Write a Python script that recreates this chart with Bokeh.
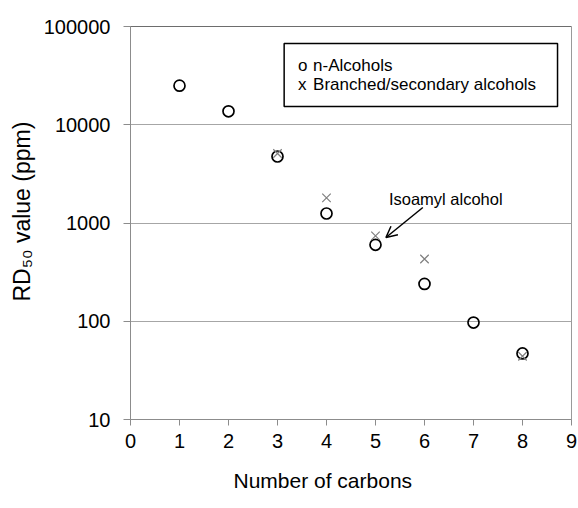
import math
from bokeh.plotting import figure
from bokeh.models import (FixedTicker, NumeralTickFormatter, Label, Arrow,
                          OpenHead, BoxAnnotation, Span, Title)
from bokeh.embed import file_html
from bokeh.resources import INLINE

# ---- data ----
carbons_n = [1, 2, 3, 4, 5, 6, 7, 8]
rd50_n = [25000, 13700, 4750, 1250, 600, 240, 97, 47]
carbons_b = [3, 4, 5, 6, 8]
rd50_b = [5100, 1800, 740, 430, 44]
x_ticks = [0, 1, 2, 3, 4, 5, 6, 7, 8, 9]
y_ticks = [10, 100, 1000, 10000, 100000]
legend_n = "n-Alcohols"
legend_b = "Branched/secondary alcohols"
note_text = "Isoamyl alcohol"
x_title = "Number of carbons"
y_title = "RD\u2085\u2080 value (ppm)"

FONT = "Liberation Sans"

# frame in pixels: x 129..571, y 26..419
FL, FR, FT, FB = 129, 571, 26, 419

def dx(px):
    return (px - FL) / ((FR - FL) / 9.0)

def dy(py):
    return 10 ** ((FB - py) / ((FB - FT) / 4.0) + 1)

W, H = 578, 508
p = figure(width=W, height=H, x_range=(0, 9), y_range=(10, 100000),
           y_axis_type="log", output_backend="svg", toolbar_location=None,
           min_border_left=FL, min_border_right=W - FR, min_border_top=FT,
           min_border_bottom=H - FB)
p.background_fill_color = "white"
p.border_fill_color = "white"
p.outline_line_color = "#9a9a9a"
p.outline_line_width = 1

# axes
p.xaxis.ticker = FixedTicker(ticks=x_ticks, minor_ticks=[])
p.yaxis.ticker = FixedTicker(ticks=y_ticks, minor_ticks=[])
p.yaxis.formatter = NumeralTickFormatter(format="0")
for ax in (p.xaxis, p.yaxis):
    ax.axis_line_color = "#8c8c8c"
    ax.major_tick_line_color = "#8c8c8c"
    ax.major_tick_in = 0
    ax.minor_tick_line_color = None
    ax.major_label_text_font = FONT
    ax.major_label_text_font_size = "20px"
    ax.major_label_text_color = "black"
p.yaxis.major_tick_out = 7
p.yaxis.major_label_standoff = 13
p.xaxis.major_tick_out = 6
p.xaxis.major_label_standoff = 8

p.xgrid.grid_line_color = None
p.ygrid.grid_line_color = "#a6a6a6"
p.ygrid.grid_line_width = 1
p.add_layout(Span(location=100000, dimension="width", line_color="#404040",
                  line_width=1))

# axis titles as side titles
p.add_layout(Title(text=x_title, align="left", offset=232 - FL, standoff=32,
                   text_font=FONT, text_font_size="21px",
                   text_font_style="normal", text_color="black"), "below")
p.add_layout(Title(text=y_title, align="left", offset=FB - 301, standoff=12,
                   text_font=FONT, text_font_size="23px",
                   text_font_style="normal", text_color="black"), "left")

# data marks
p.scatter(carbons_n, rd50_n, marker="circle", size=11, fill_color=None,
          line_color="black", line_width=1.7)
p.scatter(carbons_b, rd50_b, marker="x", size=12, line_color="#7f7f7f",
          line_width=1.2)

# legend box with text markers
p.add_layout(BoxAnnotation(left=dx(283), right=dx(557), top=dy(43), bottom=dy(106),
                           fill_color="white", fill_alpha=1, line_color="black",
                           line_alpha=1, line_width=1.5))
for txt, px, py in [("o", 297, 65), (legend_n, 312, 65),
                    ("x", 297, 84), (legend_b, 312, 84)]:
    p.add_layout(Label(x=dx(px), y=dy(py), text=txt, text_font=FONT,
                       text_font_size="17px", text_color="black",
                       text_baseline="alphabetic", text_align="left"))

# annotation
p.add_layout(Label(x=dx(388), y=dy(198), text=note_text, text_font=FONT,
                   text_font_size="16.5px", text_color="black",
                   text_baseline="alphabetic", text_align="left"))
p.add_layout(Arrow(end=OpenHead(size=11, line_color="black", line_width=1.5),
                   x_start=dx(422), y_start=dy(207), x_end=dx(385), y_end=dy(237),
                   line_color="black", line_width=1.5))

open("out.html", "w").write(file_html(p, INLINE))
